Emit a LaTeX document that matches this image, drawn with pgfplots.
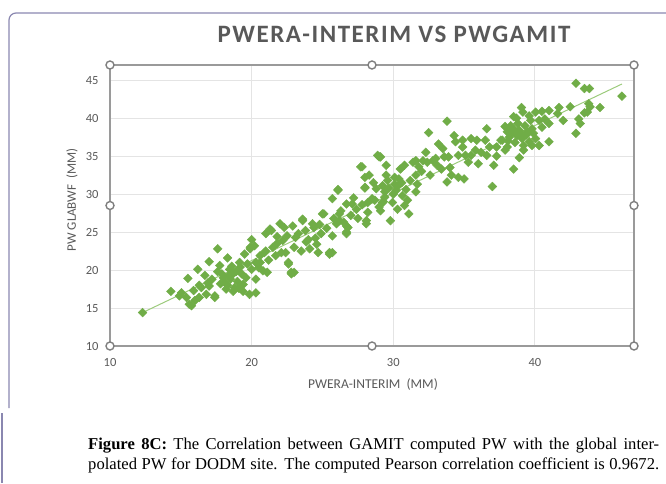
\documentclass[border=0pt]{standalone}
\usepackage{fontspec}
\setmainfont{Carlito}
\newfontfamily\capfont{Liberation Serif}
\newfontfamily\titlefont[LetterSpace=6.2]{Carlito}
\usepackage{pgfplots}
\usepackage{pgfplotstable}
\pgfplotsset{compat=1.18}
\definecolor{ptgreen}{HTML}{70AD47}
\definecolor{trendgreen}{HTML}{9CCB7C}
\definecolor{txtgray}{HTML}{595959}
\definecolor{gridgray}{HTML}{E4E4E4}
\definecolor{axgray}{HTML}{9A9A9A}
\definecolor{handlegray}{HTML}{7F7F7F}
\definecolor{framecol}{HTML}{8A87B0}
\pgfplotstableread{
x y
12.3 14.4
14.3 17.2
14.9 16.6
15.4 16.4
15.5 18.9
15.75 15.3
15.6 15.5
15.05 17.0
16.2 20.1
16.3 16.4
16.45 17.7
16.7 19.3
16.8 16.8
17.0 21.1
17.0 17.9
17.4 16.6
17.4 16.4
17.6 22.8
17.75 20.6
17.9 19.5
18.1 18.4
18.2 17.5
18.3 21.6
18.45 20.1
18.7 19.5
18.7 17.2
18.8 17.7
19.15 21.0
19.3 19.5
19.4 18.1
19.4 17.2
19.5 22.1
19.85 16.8
19.9 22.8
20.0 20.1
20.3 17.0
20.3 18.8
18.0 19.0
18.3 18.0
18.5 18.8
18.6 20.5
18.9 19.8
19.0 18.5
19.2 20.4
19.6 19.0
19.7 20.8
19.1 17.6
18.4 19.3
17.8 18.2
17.2 18.8
16.9 18.3
16.3 18.0
15.9 17.3
16.0 16.0
17.6 19.8
19.9 23.0
20.2 23.2
20.3 21.0
20.6 21.9
20.6 21.0
20.8 19.9
20.9 22.3
21.0 22.5
21.1 19.7
21.3 25.4
21.4 25.2
21.7 21.9
22.0 26.1
22.1 22.3
22.2 23.9
22.4 22.3
22.6 20.8
22.6 21.0
22.8 19.5
22.8 19.7
23.0 19.7
22.9 25.8
23.1 24.3
23.6 26.5
23.6 26.7
23.85 23.7
24.1 22.8
24.3 26.1
24.4 25.6
24.6 23.4
24.7 22.3
24.9 24.8
25.0 27.4
25.1 27.4
25.5 22.3
25.5 22.1
25.7 22.3
25.7 24.5
25.7 29.4
26.0 26.1
26.1 30.5
26.1 30.6
26.2 26.5
26.2 27.4
26.7 28.7
26.7 25.8
26.7 25.0
26.7 24.8
26.8 25.6
27.1 28.7
27.4 28.0
27.7 33.6
27.8 33.6
28.0 32.2
28.0 30.9
28.0 30.8
28.1 26.5
28.1 26.1
28.2 28.9
28.2 27.6
28.3 32.5
28.5 29.4
28.8 30.7
28.9 35.1
29.0 34.9
29.1 27.8
29.25 28.9
29.4 30.3
20.5 20.3
21.2 21.3
21.5 23.0
21.8 23.5
22.5 24.5
23.0 23.0
23.3 24.8
23.8 25.2
24.0 24.0
24.5 24.2
24.8 26.0
25.3 25.5
25.8 26.8
26.3 27.8
26.5 26.3
27.0 27.2
27.5 26.8
27.8 28.6
27.2 29.5
21.8 24.4
22.3 25.6
23.5 22.5
20.0 24.0
21.0 24.8
29.1 34.9
29.25 31.1
29.4 29.6
29.5 33.8
29.5 32.5
29.8 26.5
29.95 28.9
30.1 32.2
30.1 31.3
30.2 30.5
30.4 32.0
30.5 33.3
30.65 29.8
30.8 28.5
31.1 27.4
31.4 34.2
31.6 34.4
31.6 32.5
31.6 30.3
31.7 31.3
31.8 33.6
32.1 34.4
32.3 35.5
32.4 34.2
32.5 38.1
32.8 34.4
33.1 33.8
33.2 36.6
33.4 33.3
33.6 34.9
33.8 39.6
33.8 31.6
33.9 34.9
34.1 32.5
34.3 37.7
34.4 36.9
34.6 35.1
34.6 32.2
34.9 37.1
34.9 36.2
35.0 32.0
35.1 35.1
35.5 37.3
35.5 35.1
35.8 35.8
35.9 37.1
36.2 35.5
36.5 37.1
36.6 38.6
36.6 35.1
37.0 31.0
37.1 33.8
37.3 36.2
37.6 37.1
29.7 30.8
30.0 30.0
30.3 31.0
30.6 31.5
29.6 31.8
30.9 30.6
31.2 31.8
31.0 29.2
29.3 29.0
28.7 29.2
28.6 31.5
30.8 33.8
32.0 33.0
32.6 32.5
33.0 34.7
34.0 33.5
35.3 34.2
36.0 34.0
36.8 36.2
37.3 35.0
33.5 36.0
30.3 28.0
29.0 28.3
37.7 37.1
37.9 35.8
38.05 36.2
38.05 38.2
38.2 37.5
38.3 37.9
38.4 38.6
38.5 40.2
38.5 33.3
38.6 38.4
38.7 40.0
38.75 37.7
38.9 38.4
38.9 34.8
39.05 41.4
39.15 40.8
39.1 37.3
39.2 36.4
39.2 35.8
39.5 38.2
39.6 36.9
39.7 39.7
39.8 38.6
39.8 36.4
40.05 40.8
40.05 37.3
40.3 39.7
40.3 36.4
40.5 40.9
40.5 38.8
40.7 39.9
41.0 41.0
41.0 39.3
41.0 36.9
41.6 40.6
41.7 41.4
42.0 39.7
42.5 41.5
42.9 44.6
42.9 38.0
43.1 39.9
43.2 39.3
43.5 43.9
43.5 40.7
43.7 40.8
43.8 41.9
43.85 43.9
43.9 41.5
44.6 41.4
46.15 42.9
38.3 39.0
38.8 39.3
39.3 39.0
39.0 38.0
39.4 37.8
39.9 38.0
38.6 36.8
37.9 38.9
38.1 37.0
39.6 40.3
}\pwdata
\begin{document}
\begin{tikzpicture}[x=1pt,y=1pt]
\path[use as bounding box] (0,0) rectangle (666,483);
\draw[framecol, line width=1.2pt, rounded corners=7pt] (9,75) -- (9,470) -- (668,470);
\draw[framecol, line width=1.2pt] (2,0) -- (2,70);
\begin{axis}[
  at={(110pt,137pt)}, anchor=south west,
  scale only axis, width=524pt, height=281pt,
  xmin=10, xmax=47, ymin=10, ymax=47,
  xtick={10,20,30,40}, ytick={10,15,20,25,30,35,40,45},
  grid=major, grid style={gridgray, line width=1pt},
  axis line style={axgray, line width=1.3pt},
  major tick length=0pt,
  ticklabel style={font=\fontsize{12.5}{14}\selectfont, text=txtgray},
  /pgf/number format/assume math mode=true,
  yticklabel style={xshift=-8pt},
  xticklabel style={yshift=-9pt},
  clip=false,
]
\addplot[trendgreen, line width=1pt, no marks] coordinates {(12.3,14.4) (46.15,44.5)};
\addplot[only marks, mark=square*, mark size=3.1pt, mark options={fill=ptgreen, draw=ptgreen, rotate=45}] table[x=x,y=y] {\pwdata};
\foreach \px/\py in {0/0, 0.5/0, 1/0, 0/0.5, 1/0.5, 0/1, 0.5/1, 1/1} {
  \edef\tmp{\noexpand\filldraw[fill=white, draw=handlegray, line width=1.4pt] (rel axis cs:\px,\py) circle[radius=4pt];}
  \tmp
}
\end{axis}
\node[anchor=base, text=txtgray, font=\titlefont\fontsize{25}{28}\selectfont\bfseries] at (394,440) {PWERA-INTERIM VS PWGAMIT};
\node[anchor=base, text=txtgray, font=\fontsize{13.5}{15}\selectfont] at (373,95) {PWERA-INTERIM\ \ (MM)};
\node[rotate=90, text=txtgray, font=\fontsize{13}{15}\selectfont] at (72,283) {PW GLABWF\ \ (MM)};
\node[anchor=base west, inner sep=0pt, font=\capfont\fontsize{16.6}{19}\selectfont] at (88,34) {\makebox[571pt][s]{\textbf{Figure 8C:} The Correlation between GAMIT computed PW with the global inter-}};
\node[anchor=base west, inner sep=0pt, font=\capfont\fontsize{16.6}{19}\selectfont] at (88,14) {\makebox[571pt][s]{polated PW for DODM site. The computed Pearson correlation coefficient is 0.9672.}};
\end{tikzpicture}
\end{document}
